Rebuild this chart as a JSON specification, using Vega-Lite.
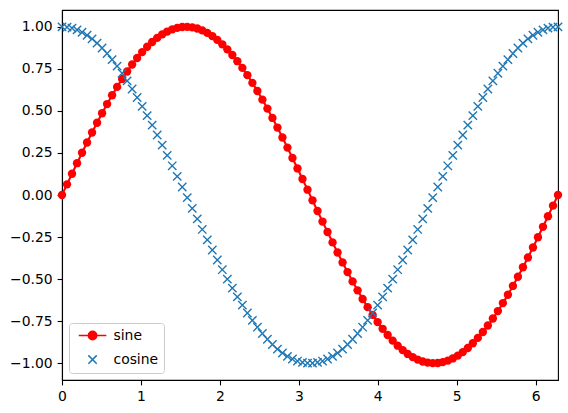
{
  "$schema": "https://vega.github.io/schema/vega-lite/v6.json",
  "autosize": "none",
  "width": 496,
  "height": 370,
  "padding": {"left": 62, "top": 10, "right": 10, "bottom": 33},
  "background": "white",
  "config": {
    "font": "DejaVu Sans",
    "view": {"stroke": "black", "strokeWidth": 1.1},
    "axis": {
      "grid": false,
      "domainColor": "black",
      "domainWidth": 1.1,
      "tickColor": "black",
      "tickWidth": 1.1,
      "tickSize": 4.9,
      "labelPadding": 4.9,
      "labelFont": "DejaVu Sans",
      "labelFontSize": 13.9,
      "labelColor": "black",
      "labelFlush": false,
      "title": null
    },
    "legend": {
      "orient": "bottom-left",
      "offset": 7,
      "padding": 5.6,
      "strokeColor": "#cccccc",
      "cornerRadius": 3,
      "fillColor": "rgba(255,255,255,0.8)",
      "labelFont": "DejaVu Sans",
      "labelFontSize": 13.9,
      "labelColor": "black",
      "symbolSize": 70,
      "symbolOffset": 11,
      "labelOffset": 14,
      "rowPadding": 8,
      "title": null
    }
  },
  "data": {
    "values": [
      {"x": 0, "sine": 0, "cosine": 1},
      {"x": 0.0635, "sine": 0.0634, "cosine": 0.998},
      {"x": 0.1269, "sine": 0.1266, "cosine": 0.9919},
      {"x": 0.1904, "sine": 0.1892, "cosine": 0.9819},
      {"x": 0.2539, "sine": 0.2511, "cosine": 0.9679},
      {"x": 0.3173, "sine": 0.312, "cosine": 0.9501},
      {"x": 0.3808, "sine": 0.3717, "cosine": 0.9283},
      {"x": 0.4443, "sine": 0.4298, "cosine": 0.9029},
      {"x": 0.5077, "sine": 0.4862, "cosine": 0.8738},
      {"x": 0.5712, "sine": 0.5406, "cosine": 0.8412},
      {"x": 0.6347, "sine": 0.5929, "cosine": 0.8052},
      {"x": 0.6981, "sine": 0.6428, "cosine": 0.766},
      {"x": 0.7616, "sine": 0.6901, "cosine": 0.7237},
      {"x": 0.8251, "sine": 0.7346, "cosine": 0.6785},
      {"x": 0.8885, "sine": 0.7761, "cosine": 0.6305},
      {"x": 0.952, "sine": 0.8145, "cosine": 0.58},
      {"x": 1.0155, "sine": 0.8497, "cosine": 0.5272},
      {"x": 1.0789, "sine": 0.8814, "cosine": 0.4723},
      {"x": 1.1424, "sine": 0.9096, "cosine": 0.4154},
      {"x": 1.2059, "sine": 0.9341, "cosine": 0.3569},
      {"x": 1.2693, "sine": 0.9549, "cosine": 0.2969},
      {"x": 1.3328, "sine": 0.9718, "cosine": 0.2358},
      {"x": 1.3963, "sine": 0.9848, "cosine": 0.1736},
      {"x": 1.4597, "sine": 0.9938, "cosine": 0.1108},
      {"x": 1.5232, "sine": 0.9989, "cosine": 0.0476},
      {"x": 1.5867, "sine": 0.9999, "cosine": -0.0159},
      {"x": 1.6501, "sine": 0.9968, "cosine": -0.0792},
      {"x": 1.7136, "sine": 0.9898, "cosine": -0.1423},
      {"x": 1.7771, "sine": 0.9788, "cosine": -0.2048},
      {"x": 1.8405, "sine": 0.9638, "cosine": -0.2665},
      {"x": 1.904, "sine": 0.945, "cosine": -0.3271},
      {"x": 1.9675, "sine": 0.9223, "cosine": -0.3863},
      {"x": 2.0309, "sine": 0.896, "cosine": -0.4441},
      {"x": 2.0944, "sine": 0.866, "cosine": -0.5},
      {"x": 2.1579, "sine": 0.8325, "cosine": -0.5539},
      {"x": 2.2213, "sine": 0.7957, "cosine": -0.6056},
      {"x": 2.2848, "sine": 0.7557, "cosine": -0.6549},
      {"x": 2.3483, "sine": 0.7127, "cosine": -0.7014},
      {"x": 2.4117, "sine": 0.6668, "cosine": -0.7452},
      {"x": 2.4752, "sine": 0.6181, "cosine": -0.786},
      {"x": 2.5387, "sine": 0.567, "cosine": -0.8236},
      {"x": 2.6021, "sine": 0.5137, "cosine": -0.858},
      {"x": 2.6656, "sine": 0.4582, "cosine": -0.8888},
      {"x": 2.7291, "sine": 0.4009, "cosine": -0.9161},
      {"x": 2.7925, "sine": 0.342, "cosine": -0.9397},
      {"x": 2.856, "sine": 0.2817, "cosine": -0.9595},
      {"x": 2.9195, "sine": 0.2203, "cosine": -0.9754},
      {"x": 2.9829, "sine": 0.158, "cosine": -0.9874},
      {"x": 3.0464, "sine": 0.0951, "cosine": -0.9955},
      {"x": 3.1099, "sine": 0.0317, "cosine": -0.9995},
      {"x": 3.1733, "sine": -0.0317, "cosine": -0.9995},
      {"x": 3.2368, "sine": -0.0951, "cosine": -0.9955},
      {"x": 3.3003, "sine": -0.158, "cosine": -0.9874},
      {"x": 3.3637, "sine": -0.2203, "cosine": -0.9754},
      {"x": 3.4272, "sine": -0.2817, "cosine": -0.9595},
      {"x": 3.4907, "sine": -0.342, "cosine": -0.9397},
      {"x": 3.5541, "sine": -0.4009, "cosine": -0.9161},
      {"x": 3.6176, "sine": -0.4582, "cosine": -0.8888},
      {"x": 3.6811, "sine": -0.5137, "cosine": -0.858},
      {"x": 3.7445, "sine": -0.567, "cosine": -0.8236},
      {"x": 3.808, "sine": -0.6181, "cosine": -0.786},
      {"x": 3.8715, "sine": -0.6668, "cosine": -0.7452},
      {"x": 3.9349, "sine": -0.7127, "cosine": -0.7014},
      {"x": 3.9984, "sine": -0.7557, "cosine": -0.6549},
      {"x": 4.0619, "sine": -0.7957, "cosine": -0.6056},
      {"x": 4.1253, "sine": -0.8325, "cosine": -0.5539},
      {"x": 4.1888, "sine": -0.866, "cosine": -0.5},
      {"x": 4.2523, "sine": -0.896, "cosine": -0.4441},
      {"x": 4.3157, "sine": -0.9223, "cosine": -0.3863},
      {"x": 4.3792, "sine": -0.945, "cosine": -0.3271},
      {"x": 4.4427, "sine": -0.9638, "cosine": -0.2665},
      {"x": 4.5061, "sine": -0.9788, "cosine": -0.2048},
      {"x": 4.5696, "sine": -0.9898, "cosine": -0.1423},
      {"x": 4.6331, "sine": -0.9968, "cosine": -0.0792},
      {"x": 4.6965, "sine": -0.9999, "cosine": -0.0159},
      {"x": 4.76, "sine": -0.9989, "cosine": 0.0476},
      {"x": 4.8235, "sine": -0.9938, "cosine": 0.1108},
      {"x": 4.8869, "sine": -0.9848, "cosine": 0.1736},
      {"x": 4.9504, "sine": -0.9718, "cosine": 0.2358},
      {"x": 5.0139, "sine": -0.9549, "cosine": 0.2969},
      {"x": 5.0773, "sine": -0.9341, "cosine": 0.3569},
      {"x": 5.1408, "sine": -0.9096, "cosine": 0.4154},
      {"x": 5.2043, "sine": -0.8814, "cosine": 0.4723},
      {"x": 5.2677, "sine": -0.8497, "cosine": 0.5272},
      {"x": 5.3312, "sine": -0.8145, "cosine": 0.58},
      {"x": 5.3947, "sine": -0.7761, "cosine": 0.6305},
      {"x": 5.4581, "sine": -0.7346, "cosine": 0.6785},
      {"x": 5.5216, "sine": -0.6901, "cosine": 0.7237},
      {"x": 5.5851, "sine": -0.6428, "cosine": 0.766},
      {"x": 5.6485, "sine": -0.5929, "cosine": 0.8052},
      {"x": 5.712, "sine": -0.5406, "cosine": 0.8412},
      {"x": 5.7755, "sine": -0.4862, "cosine": 0.8738},
      {"x": 5.8389, "sine": -0.4298, "cosine": 0.9029},
      {"x": 5.9024, "sine": -0.3717, "cosine": 0.9283},
      {"x": 5.9659, "sine": -0.312, "cosine": 0.9501},
      {"x": 6.0293, "sine": -0.2511, "cosine": 0.9679},
      {"x": 6.0928, "sine": -0.1892, "cosine": 0.9819},
      {"x": 6.1563, "sine": -0.1266, "cosine": 0.9919},
      {"x": 6.2197, "sine": -0.0634, "cosine": 0.998},
      {"x": 6.2832, "sine": 0, "cosine": 1}
    ]
  },
  "transform": [{"fold": ["sine", "cosine"], "as": ["series", "y"]}],
  "encoding": {
    "x": {
      "field": "x",
      "type": "quantitative",
      "scale": {"domain": [0, 6.2832], "nice": false, "zero": false},
      "axis": {"values": [0, 1, 2, 3, 4, 5, 6], "format": "d"}
    },
    "y": {
      "field": "y",
      "type": "quantitative",
      "scale": {"domain": [-1.1, 1.1], "nice": false, "zero": false},
      "axis": {"values": [-1, -0.75, -0.5, -0.25, 0, 0.25, 0.5, 0.75, 1], "format": ".2f"}
    }
  },
  "layer": [
    {
      "transform": [{"filter": "datum.series === 'sine'"}],
      "mark": {"type": "line", "color": "#ff0000", "strokeWidth": 2.08}
    },
    {
      "transform": [{"filter": "datum.series === 'sine'"}],
      "mark": {"type": "point", "shape": "circle", "filled": true, "color": "#ff0000", "size": 70, "opacity": 1, "strokeWidth": 0}
    },
    {
      "transform": [{"filter": "datum.series === 'cosine'"}],
      "mark": {"type": "point", "shape": "M-1,-1L1,1M-1,1L1,-1", "filled": false, "color": "#1f77b4", "size": 70, "opacity": 1, "strokeWidth": 1.4}
    },
    {
      "transform": [{"filter": "datum.x < 0"}],
      "mark": {"type": "point", "opacity": 1, "strokeWidth": 1.7},
      "encoding": {
        "shape": {
          "field": "series",
          "type": "nominal",
          "scale": {
            "domain": ["sine", "cosine"],
            "range": ["M-3.3,0L3.3,0M1,0A1,1,0,1,1,-1,0A1,1,0,1,1,1,0Z", "M-1,-1L1,1M-1,1L1,-1"]
          },
          "legend": {"title": null}
        },
        "fill": {
          "field": "series",
          "type": "nominal",
          "scale": {"domain": ["sine", "cosine"], "range": ["#ff0000", "transparent"]},
          "legend": {"title": null}
        },
        "stroke": {
          "field": "series",
          "type": "nominal",
          "scale": {"domain": ["sine", "cosine"], "range": ["#ff0000", "#1f77b4"]},
          "legend": {"title": null}
        }
      }
    }
  ]
}
